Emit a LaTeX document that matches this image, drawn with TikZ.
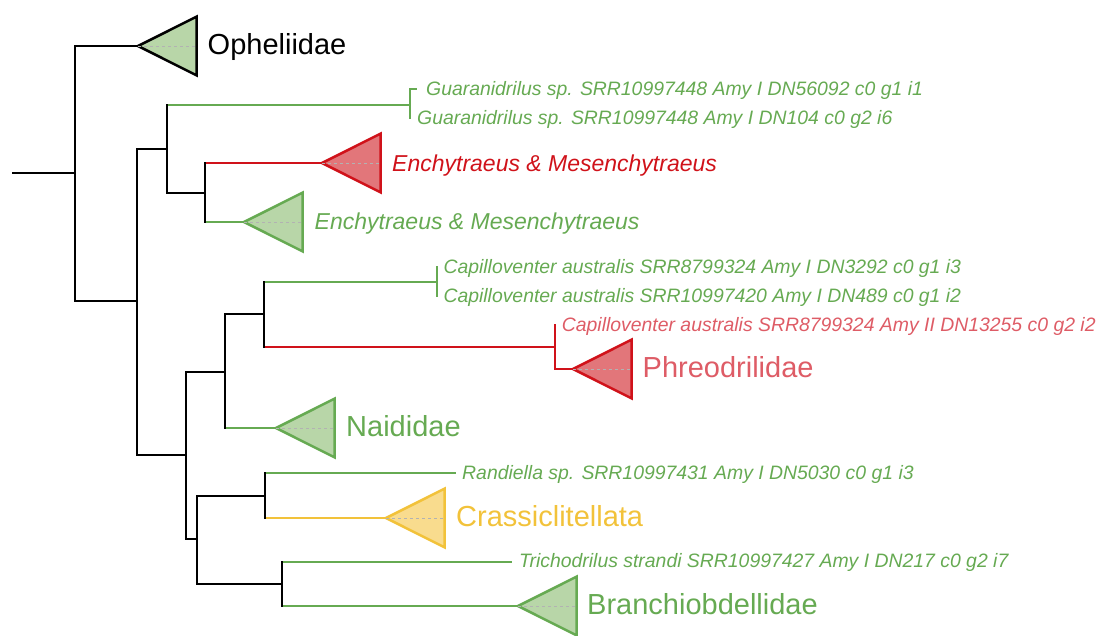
\documentclass[tikz,border=0pt]{standalone}
\usepackage{fontspec}
\setmainfont{Liberation Sans}
\definecolor{tgreen}{RGB}{102,170,82}
\definecolor{tgreenfill}{RGB}{184,214,168}
\definecolor{tred}{RGB}{208,18,26}
\definecolor{tredfill}{RGB}{226,118,122}
\definecolor{tredtext}{RGB}{222,92,102}
\definecolor{tyellow}{RGB}{242,194,58}
\definecolor{tyellowfill}{RGB}{249,220,142}
\tikzset{
  br/.style={line width=2pt, line cap=butt},
  vbr/.style={line width=2pt, line cap=rect},
  bigl/.style={font=\fontsize{29}{32}\selectfont, anchor=base west, inner sep=0pt},
  medl/.style={font=\fontsize{23}{25}\selectfont\itshape, anchor=base west, inner sep=0pt},
  smalll/.style={font=\fontsize{19.4}{22}\selectfont\itshape, anchor=base west, inner sep=0pt},
  tri/.style={line width=2.5pt, line join=miter},
  midd/.style={dashed, draw=gray!60, line width=0.7pt}
}
\newcommand\cladetri[3]{%
  \draw[tri, draw=#2, fill=#3] (#1) -- ++(58.5,-29.3) -- ++(0,58.6) -- cycle;
  \draw[midd] (#1) -- ++(58.5,0);}
\begin{document}
\begin{tikzpicture}[x=1pt,y=-1pt]
\useasboundingbox (0,0) rectangle (1102,635);
% tree coordinates
\coordinate (root0) at (12,173);
\coordinate (n1) at (75,173);
\coordinate (oph) at (138,46);
\coordinate (n2) at (137,301);
\coordinate (n3) at (167,149);
\coordinate (guar) at (410,105);
\coordinate (g1) at (417,89);
\coordinate (g2) at (410,118);
\coordinate (n4) at (205,193);
\coordinate (enR) at (322,163);
\coordinate (enG) at (244,222);
\coordinate (n5) at (186,455);
\coordinate (n6) at (225,372);
\coordinate (n7) at (264,314);
\coordinate (cap) at (437,282);
\coordinate (c1) at (437,267);
\coordinate (c2) at (437,296);
\coordinate (capR) at (555,347);
\coordinate (c3) at (555,325);
\coordinate (phr) at (573,369);
\coordinate (nai) at (276,428);
\coordinate (n8) at (197,539);
\coordinate (n9) at (265,496);
\coordinate (ran) at (456,473);
\coordinate (cra) at (386,518);
\coordinate (n10) at (282,584);
\coordinate (tri) at (512,562);
\coordinate (bra) at (518,606);
% horizontal branches
\draw[br] (root0) -- (n1);
\draw[br] (n1 |- oph) -- (oph);
\draw[br] (n1 |- n2) -- (n2);
\draw[br] (n2 |- n3) -- (n3);
\draw[br, tgreen] (n3 |- guar) -- (guar);
\draw[br, tgreen] (guar |- g1) -- (g1);
\draw[br] (n3 |- n4) -- (n4);
\draw[br, tred] (n4 |- enR) -- (enR);
\draw[br, tgreen] (n4 |- enG) -- (enG);
\draw[br] (n2 |- n5) -- (n5);
\draw[br] (n5 |- n6) -- (n6);
\draw[br] (n6 |- n7) -- (n7);
\draw[br, tgreen] (n7 |- cap) -- (cap);
\draw[br, tred] (n7 |- capR) -- (capR);
\draw[br, tred] (capR |- phr) -- (phr);
\draw[br, tgreen] (n6 |- nai) -- (nai);
\draw[br] (n5 |- n8) -- (n8);
\draw[br] (n8 |- n9) -- (n9);
\draw[br, tgreen] (n9 |- ran) -- (ran);
\draw[br, tyellow] (n9 |- cra) -- (cra);
\draw[br] (n8 |- n10) -- (n10);
\draw[br, tgreen] (n10 |- tri) -- (tri);
\draw[br, tgreen] (n10 |- bra) -- (bra);
% vertical branches
\draw[vbr] (n1 |- oph) -- (n1 |- n2);
\draw[vbr] (n2 |- n3) -- (n2 |- n5);
\draw[vbr] (n3 |- guar) -- (n3 |- n4);
\draw[vbr, tgreen] (guar |- g1) -- (guar |- g2);
\draw[vbr] (n4 |- enR) -- (n4 |- enG);
\draw[vbr] (n5 |- n6) -- (n5 |- n8);
\draw[vbr] (n6 |- n7) -- (n6 |- nai);
\draw[vbr] (n7 |- cap) -- (n7 |- capR);
\draw[vbr, tgreen] (cap |- c1) -- (cap |- c2);
\draw[vbr, tred] (capR |- c3) -- (capR |- phr);
\draw[vbr] (n8 |- n9) -- (n8 |- n10);
\draw[vbr] (n9 |- ran) -- (n9 |- cra);
\draw[vbr] (n10 |- tri) -- (n10 |- bra);
% collapsed clades
\cladetri{oph}{black}{tgreenfill}
\cladetri{enR}{tred}{tredfill}
\cladetri{enG}{tgreen}{tgreenfill}
\cladetri{phr}{tred}{tredfill}
\cladetri{nai}{tgreen}{tgreenfill}
\cladetri{cra}{tyellow}{tyellowfill}
\cladetri{bra}{tgreen}{tgreenfill}
% labels
\node[bigl, text=black] (lOph) at (207.5,54.2) {Opheliidae};
\node[smalll, text=tgreen] (lG1) at (426,95) {Guaranidrilus sp. SRR10997448 Amy I DN56092 c0 g1 i1};
\node[smalll, text=tgreen] (lG2) at (417,124) {Guaranidrilus sp. SRR10997448 Amy I DN104 c0 g2 i6};
\node[medl, text=tred] (lEnR) at (392,171) {Enchytraeus \& Mesenchytraeus};
\node[medl, text=tgreen] (lEnG) at (314.5,229.8) {Enchytraeus \& Mesenchytraeus};
\node[smalll, text=tgreen] (lC1) at (443.3,273) {Capilloventer australis SRR8799324 Amy I DN3292 c0 g1 i3};
\node[smalll, text=tgreen] (lC2) at (443.3,302) {Capilloventer australis SRR10997420 Amy I DN489 c0 g1 i2};
\node[smalll, text=tredtext] (lC3) at (561.7,331) {Capilloventer australis SRR8799324 Amy II DN13255 c0 g2 i2};
\node[bigl, text=tredtext] (lPhr) at (642.5,377.3) {Phreodrilidae};
\node[bigl, text=tgreen] (lNai) at (346,436.5) {Naididae};
\node[smalll, text=tgreen] (lRan) at (462,479) {Randiella sp. SRR10997431 Amy I DN5030 c0 g1 i3};
\node[bigl, text=tyellow] (lCra) at (456,526.3) {Crassiclitellata};
\node[smalll, text=tgreen] (lTri) at (519,567.7) {Trichodrilus strandi SRR10997427 Amy I DN217 c0 g2 i7};
\node[bigl, text=tgreen] (lBra) at (587,614.3) {Branchiobdellidae};
\end{tikzpicture}
\end{document}
